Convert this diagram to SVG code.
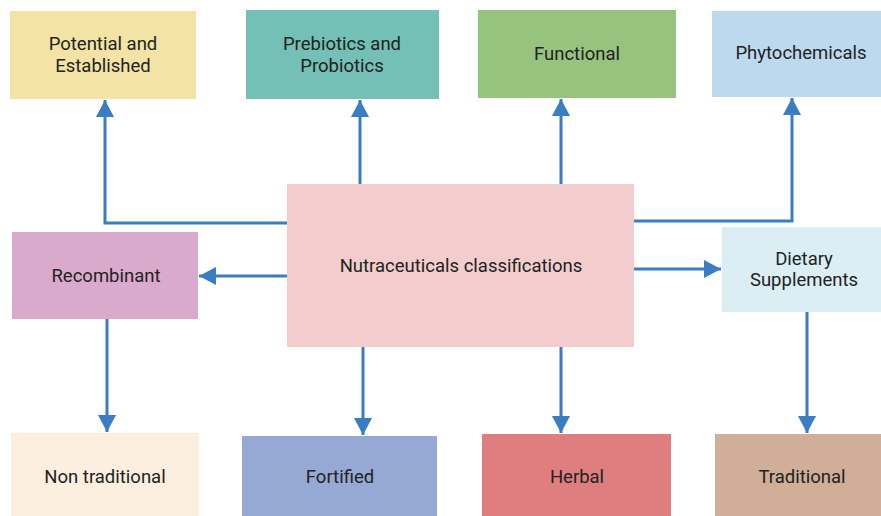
<svg xmlns="http://www.w3.org/2000/svg" width="881" height="516" viewBox="0 0 881 516">
<style>
.n text{font-family:Roboto,"Liberation Sans",sans-serif;font-size:18.5px;fill:#222;text-anchor:middle;dominant-baseline:central}
.c path{fill:none;stroke:#3a7dc2;stroke-width:3;marker-end:url(#ah)}
</style>
<defs>
<marker id="ah" markerUnits="userSpaceOnUse" markerWidth="18" markerHeight="18" refX="17" refY="9" orient="auto" viewBox="0 0 18 18">
<path d="M0,0 L17,9 L0,18 z" fill="#3a7dc2"/>
</marker>
</defs>
<rect width="881" height="516" fill="#fff"/>
<g class="c" id="connectors">
<path d="M287,223 H105 V100"/>
<path d="M360,184 V100"/>
<path d="M561,184 V99"/>
<path d="M634,221 H792 V98"/>
<path d="M287,276 H199"/>
<path d="M634,269 H721"/>
<path d="M107,319 V432"/>
<path d="M363,347 V435"/>
<path d="M561,347 V433"/>
<path d="M807,312 V433"/>
</g>
<g class="n" id="potential"><rect x="10" y="11" width="186" height="88" fill="#f3e3a5"/><text x="103" y="44">Potential and</text><text x="103" y="66">Established</text></g>
<g class="n" id="prebiotics"><rect x="246" y="10" width="193" height="89" fill="#74bfb6"/><text x="342" y="44">Prebiotics and</text><text x="342" y="66">Probiotics</text></g>
<g class="n" id="functional"><rect x="478" y="10" width="198" height="88" fill="#96c47e"/><text x="577" y="54">Functional</text></g>
<g class="n" id="phytochemicals"><rect x="712" y="11" width="169" height="86" fill="#bcd9ee"/><text x="801" y="53">Phytochemicals</text></g>
<g class="n" id="center"><rect x="287" y="184" width="347" height="163" fill="#f3cdcd"/><text x="461" y="266">Nutraceuticals classifications</text></g>
<g class="n" id="recombinant"><rect x="12" y="232" width="186" height="87" fill="#d9aacb"/><text x="106" y="276">Recombinant</text></g>
<g class="n" id="dietary"><rect x="722" y="227" width="159" height="85" fill="#dbeef4"/><text x="804" y="259">Dietary</text><text x="804" y="280">Supplements</text></g>
<g class="n" id="nontraditional"><rect x="11" y="433" width="188" height="83" fill="#fcefe0"/><text x="105" y="477">Non traditional</text></g>
<g class="n" id="fortified"><rect x="242" y="436" width="195" height="80" fill="#96a8d4"/><text x="340" y="477">Fortified</text></g>
<g class="n" id="herbal"><rect x="482" y="434" width="189" height="82" fill="#df7e7e"/><text x="577" y="477">Herbal</text></g>
<g class="n" id="traditional"><rect x="715" y="434" width="166" height="82" fill="#d0ae98"/><text x="802" y="477">Traditional</text></g>
</svg>
